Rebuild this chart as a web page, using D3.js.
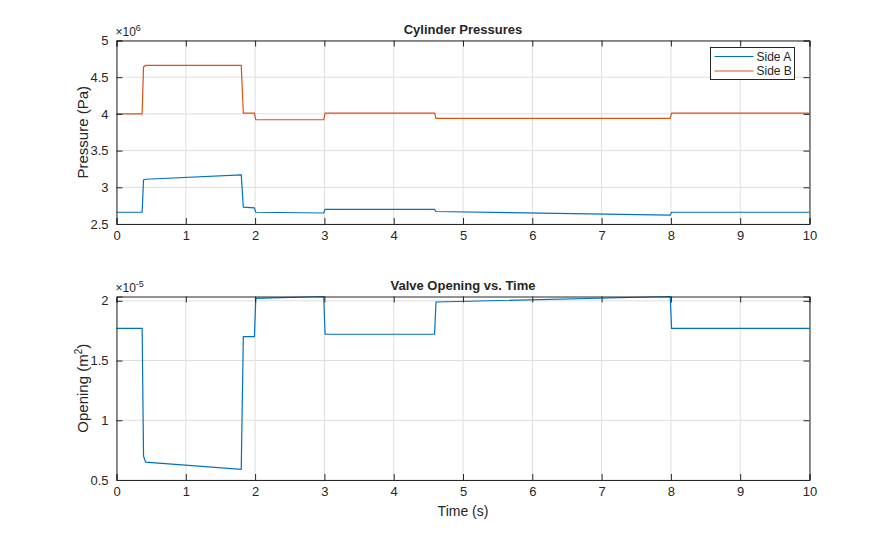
<!DOCTYPE html>
<html>
<head>
<meta charset="utf-8">
<script src="https://cdn.jsdelivr.net/npm/d3@7"></script>
<style>
  body { margin: 0; background: #fff; }
  text { font-family: "Liberation Sans", Arial, Helvetica, sans-serif; fill: #262626; }
</style>
</head>
<body>
<svg id="chart" width="895" height="540"></svg>
<script>
// breakpoints of the simulation output (s)
const times = [0, 0.37, 0.39, 0.42, 1.80, 1.83, 1.99, 2.01, 2.99, 3.01, 4.59, 4.61, 7.99, 8.01, 10];
// pressures, x1e6 Pa
const sideA = [2.66, 2.66, 3.10, 3.11, 3.17, 2.73, 2.72, 2.66, 2.65, 2.70, 2.70, 2.67, 2.62, 2.66, 2.66];
const sideB = [4.00, 4.00, 4.64, 4.66, 4.66, 4.01, 4.01, 3.92, 3.92, 4.01, 4.01, 3.94, 3.94, 4.01, 4.01];
// valve opening, x1e-5 m^2
const opening = [1.77, 1.77, 0.70, 0.65, 0.59, 1.70, 1.70, 2.02, 2.036, 1.72, 1.72, 1.99, 2.036, 1.77, 1.77];

const xTicks = d3.range(0, 11);
const pTicks = [2.5, 3, 3.5, 4, 4.5, 5];
const oTicks = [0.5, 1, 1.5, 2];
const seriesNames = ['Side A', 'Side B'];
const colors = ['#0072BD', '#D95319'];

const svg = d3.select('#chart');
const left = 116.5, right = 809.5;

const drawAxes = (top, bottom, yDomain, yTicks, opts) => {
    const x = d3.scaleLinear().domain([0, 10]).range([left, right]);
    const y = d3.scaleLinear().domain(yDomain).range([bottom, top]);
    const g = svg.append('g');

    // grid
    g.append('g').selectAll('line').data(xTicks).enter().append('line')
        .attr('x1', d => x(d)).attr('x2', d => x(d))
        .attr('y1', top).attr('y2', bottom)
        .attr('stroke', '#dedede').attr('stroke-width', 1);
    g.append('g').selectAll('line').data(yTicks).enter().append('line')
        .attr('x1', left).attr('x2', right)
        .attr('y1', d => y(d)).attr('y2', d => y(d))
        .attr('stroke', '#dedede').attr('stroke-width', 1);

    // lines
    opts.series.forEach((vals, i) => {
        const line = d3.line().x((d, j) => x(times[j])).y(d => y(d));
        g.append('path').datum(vals)
            .attr('d', line)
            .attr('fill', 'none')
            .attr('stroke', opts.colors[i])
            .attr('stroke-width', 1.2);
    });

    // axes (ticks inward, box on)
    const tl = 6;
    g.append('g').attr('transform', `translate(0,${bottom})`)
        .call(d3.axisBottom(x).tickValues(xTicks).tickSize(-tl).tickPadding(7).tickFormat(d3.format('d')));
    g.append('g').attr('transform', `translate(0,${top})`)
        .call(d3.axisTop(x).tickValues(xTicks).tickSize(-tl).tickFormat(''));
    g.append('g').attr('transform', `translate(${left},0)`)
        .call(d3.axisLeft(y).tickValues(yTicks).tickSize(-tl).tickPadding(8).tickFormat(d => d3.format('')(d)));
    g.append('g').attr('transform', `translate(${right},0)`)
        .call(d3.axisRight(y).tickValues(yTicks).tickSize(-tl).tickFormat(''));
    g.selectAll('.domain').attr('stroke', '#262626').attr('stroke-width', 1);
    g.selectAll('.tick line').attr('stroke', '#262626');
    g.selectAll('.tick text').attr('font-size', 13).style('fill', '#262626')
        .attr('font-family', '"Liberation Sans", Arial, sans-serif');

    // title
    g.append('text').attr('x', (left + right) / 2).attr('y', top - 7)
        .attr('text-anchor', 'middle').attr('font-size', 13).attr('font-weight', 'bold')
        .text(opts.title);

    // exponent
    const ex = g.append('text').attr('x', left - 1).attr('y', top - 5).attr('font-size', 12);
    ex.append('tspan').text('\u00d710');
    ex.append('tspan').attr('dy', -5).attr('font-size', 9).text(opts.exponent);

    // ylabel
    const yl = g.append('text')
        .attr('transform', `translate(${left - 29},${(top + bottom) / 2}) rotate(-90)`)
        .attr('text-anchor', 'middle').attr('font-size', 15);
    yl.append('tspan').text(opts.ylabel);
    if (opts.ylabelSup) {
        yl.append('tspan').attr('dy', -6).attr('font-size', 10).text(opts.ylabelSup);
        yl.append('tspan').attr('dy', 6).text(')');
    }
    return { x, y, g };
};

const top1 = drawAxes(40.5, 224, [2.5, 5], pTicks, {
    series: [sideA, sideB], colors, title: 'Cylinder Pressures',
    exponent: '6', ylabel: 'Pressure (Pa)'
});

const bottom2 = drawAxes(296.5, 480, [0.5, d3.max(opening)], oTicks, {
    series: [opening], colors: [colors[0]], title: 'Valve Opening vs. Time',
    exponent: '-5', ylabel: 'Opening  (m', ylabelSup: '2'
});

// x label
svg.append('text').attr('x', (left + right) / 2).attr('y', 516)
    .attr('text-anchor', 'middle').attr('font-size', 14).text('Time (s)');

// legend
const lg = top1.g.append('g').attr('transform', 'translate(710.5,47.5)');
lg.append('rect').attr('width', 84).attr('height', 32)
    .attr('fill', '#fff').attr('stroke', '#262626').attr('stroke-width', 1);
seriesNames.forEach((name, i) => {
    const yy = 9 + i * 14.5;
    lg.append('line').attr('x1', 4).attr('x2', 43).attr('y1', yy).attr('y2', yy)
        .attr('stroke', colors[i]).attr('stroke-width', 1.2);
    lg.append('text').attr('x', 46).attr('y', yy + 4).attr('font-size', 12).text(name);
});
</script>
</body>
</html>
